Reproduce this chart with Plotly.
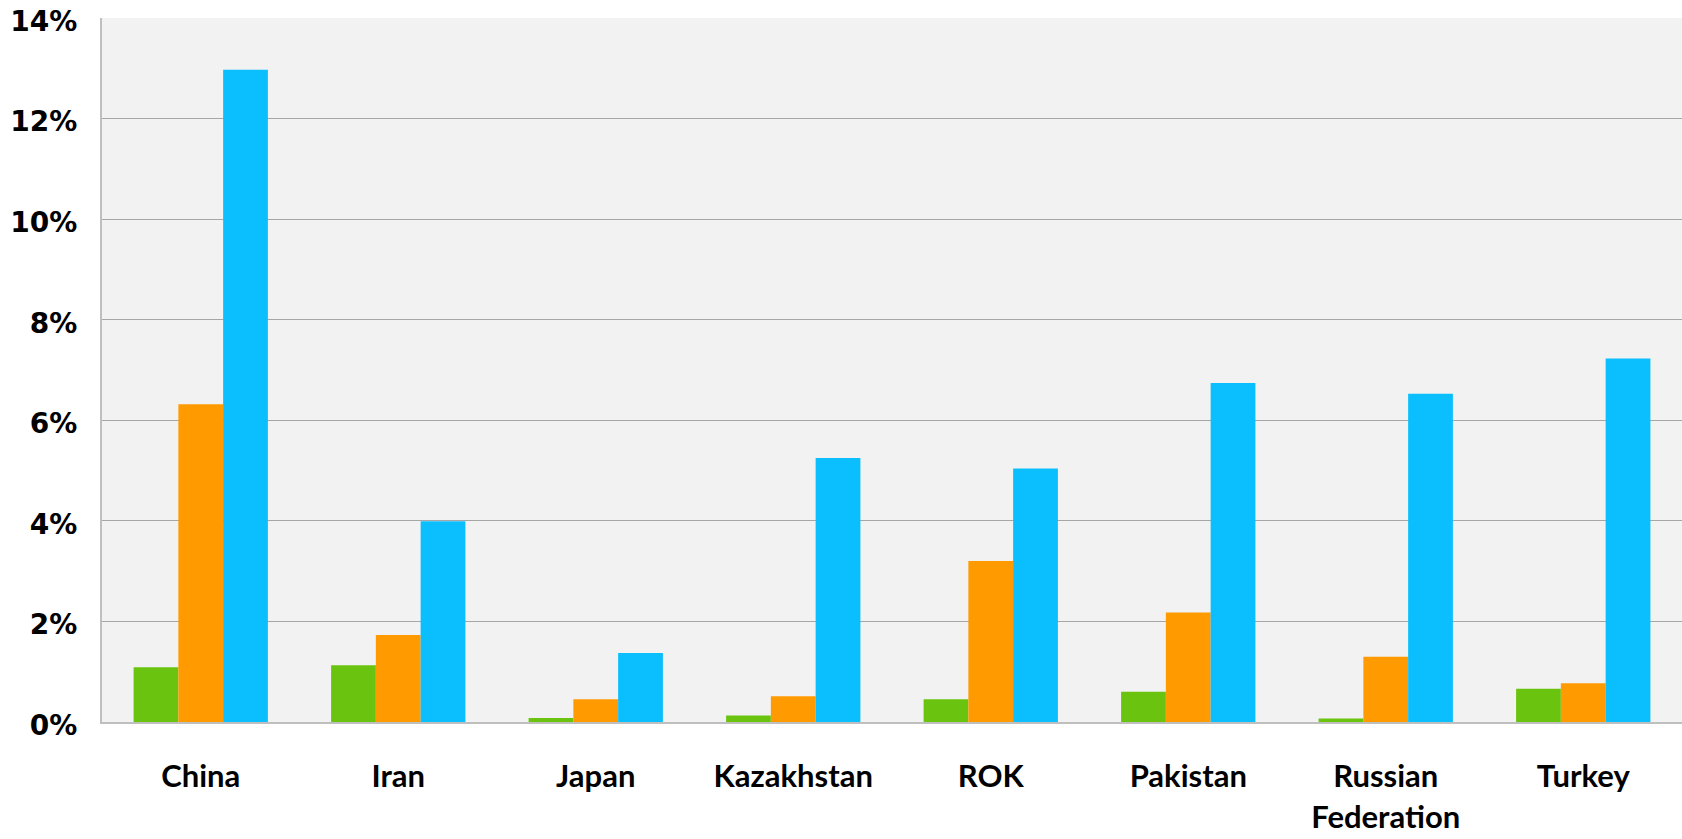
import plotly.graph_objects as go

categories = ["China", "Iran", "Japan", "Kazakhstan", "ROK", "Pakistan", "Russian<br>Federation", "Turkey"]
series_green = [1.09, 1.13, 0.08, 0.13, 0.45, 0.60, 0.07, 0.66]
series_orange = [6.32, 1.73, 0.45, 0.51, 3.20, 2.18, 1.30, 0.77]
series_blue = [12.97, 3.99, 1.37, 5.25, 5.04, 6.74, 6.53, 7.23]
y_ticks = [0, 2, 4, 6, 8, 10, 12, 14]
y_tick_labels = ["0%", "2%", "4%", "6%", "8%", "10%", "12%", "14%"]

fig = go.Figure()
for name, vals, col in [("Series 1", series_green, "#6AC40F"),
                        ("Series 2", series_orange, "#FF9A00"),
                        ("Series 3", series_blue, "#0BBFFF")]:
    fig.add_trace(go.Bar(x=categories, y=vals, name=name, marker_color=col,
                         marker_line_width=0))

fig.update_layout(
    width=1682, height=839,
    margin=dict(l=102, r=0, t=18, b=117),
    paper_bgcolor="white",
    plot_bgcolor="#F2F2F2",
    barmode="group",
    bargap=0.32,
    bargroupgap=0,
    showlegend=False,
)
fig.update_yaxes(
    range=[0, 14], tickvals=y_ticks, ticktext=y_tick_labels,
    showgrid=True, gridcolor="#A6A6A6", gridwidth=1,
    showline=True, linecolor="#BFBFBF", linewidth=2,
    zeroline=False, automargin=False,
    tickfont=dict(family="DejaVu Sans", size=28, color="black", weight="bold"),
    ticks="", ticklabelstandoff=17, ticklabeloverflow="allow",
    ticklabelshift=3,
)
fig.update_xaxes(
    showline=True, linecolor="#BFBFBF", linewidth=2, automargin=False,
    tickfont=dict(family="Lato", size=31, color="black", weight="bold"),
    ticks="", ticklabelstandoff=26, ticklabeloverflow="allow",
)
fig.write_html("out.html",
               config={"displayModeBar": False},
               post_script="document.body.style.margin='0';document.body.style.overflow='hidden';")
